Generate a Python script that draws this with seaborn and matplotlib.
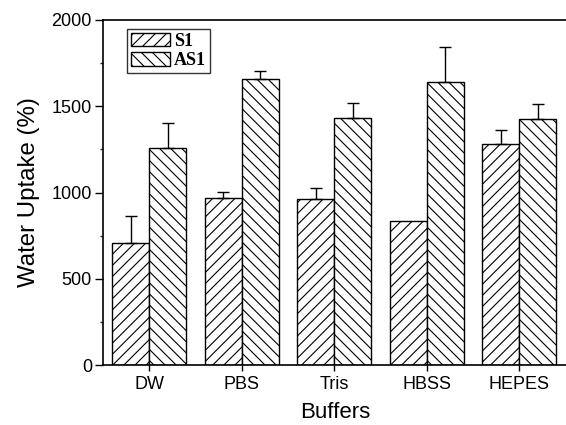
import matplotlib
matplotlib.use("Agg")
import matplotlib.pyplot as plt
import seaborn as sns
import pandas as pd
import numpy as np
from matplotlib.ticker import MultipleLocator
from matplotlib.patches import Patch

buffers = ["DW", "PBS", "Tris", "HBSS", "HEPES"]
s1_values = [705, 966, 960, 837, 1279]
as1_values = [1256, 1656, 1434, 1641, 1424]
s1_err = [160, 38, 65, 0, 85]
as1_err = [145, 50, 85, 205, 87]
series = ["S1", "AS1"]
hatches = ["///", "\\\\\\"]

df = pd.DataFrame({
    "Buffers": buffers * 2,
    "Uptake": s1_values + as1_values,
    "Sample": ["S1"] * 5 + ["AS1"] * 5,
})

sns.set_theme(style="ticks")
plt.rcParams['font.family'] = ['Liberation Sans', 'DejaVu Sans']
plt.rcParams['hatch.linewidth'] = 0.8
plt.rcParams['text.color'] = 'black'
plt.rcParams['axes.labelcolor'] = 'black'

fig = plt.figure(figsize=(5.66, 4.25), dpi=100)
ax = fig.add_axes([0.182, 0.141, 0.82, 0.812])

sns.barplot(data=df, x="Buffers", y="Uptake", hue="Sample", order=buffers,
            hue_order=series, palette=["white", "white"], edgecolor="black",
            linewidth=1.0, width=0.8, errorbar=None, ax=ax, legend=False)

errs = {"S1": s1_err, "AS1": as1_err}
for cont, name, h in zip(ax.containers, series, hatches):
    xs, ys = [], []
    for bar in cont:
        bar.set_hatch(h)
        xs.append(bar.get_x() + bar.get_width() / 2)
        ys.append(bar.get_height())
    e = np.array(errs[name], dtype=float)
    mask = e > 0
    ax.errorbar(np.array(xs)[mask], np.array(ys)[mask],
                yerr=[np.zeros(mask.sum()), e[mask]],
                fmt="none", ecolor="black", elinewidth=1.0, capsize=4, capthick=1.0)

ax.set_xlim(-0.5, 4.52)
ax.set_ylim(0, 2000)
ax.yaxis.set_major_locator(MultipleLocator(500))
ax.yaxis.set_minor_locator(MultipleLocator(250))
ax.tick_params(axis="both", which="major", direction="out", width=1.0,
               labelsize=13, colors="black", labelcolor="black")
ax.tick_params(axis="y", which="major", length=6, pad=2)
ax.tick_params(axis="x", which="major", length=4, pad=4)
ax.tick_params(axis="y", which="minor", direction="out", length=2.5, width=1.0)
ax.set_xlabel("Buffers", fontsize=16, labelpad=6, color="black")
ax.set_ylabel("Water Uptake (%)", fontsize=17.3, labelpad=8, color="black")
for side in ["left", "bottom", "top"]:
    ax.spines[side].set_visible(True)
    ax.spines[side].set_linewidth(1.2)
    ax.spines[side].set_color("black")
ax.spines["right"].set_visible(False)

handles = [Patch(facecolor="white", edgecolor="black", hatch=h, label=s)
           for s, h in zip(series, hatches)]
leg = ax.legend(handles=handles, loc="upper left", bbox_to_anchor=(0.052, 0.974),
                borderaxespad=0, frameon=True, fancybox=False, edgecolor="black",
                handlelength=2.2, handleheight=0.8, borderpad=0.2, labelspacing=0.12,
                handletextpad=0.2,
                prop={"family": "Liberation Serif", "weight": "bold", "size": 13})
leg.get_frame().set_linewidth(1.0)

fig.savefig("out.png", dpi=100)
